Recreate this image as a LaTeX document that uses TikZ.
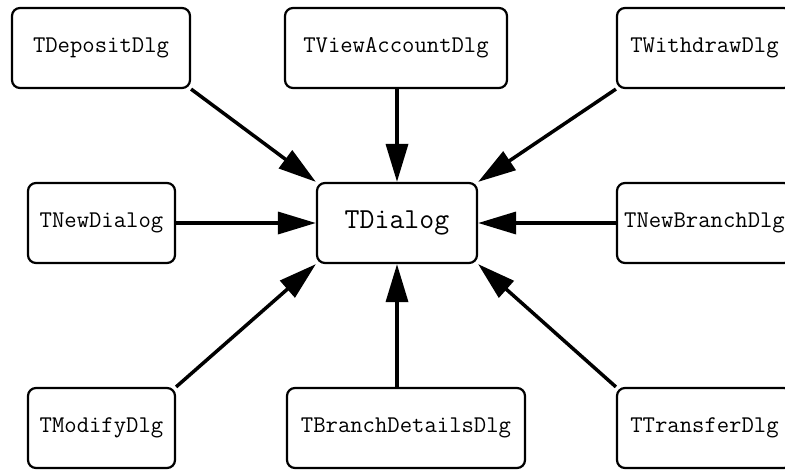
\documentclass[tikz,border=0pt]{standalone}
\usepackage{fontspec}
\usetikzlibrary{arrows.meta}
\begin{document}
\begin{tikzpicture}[x=1pt,y=-1pt,
  dlg/.style={draw, line width=2.2pt, rounded corners=8pt, minimum height=80pt,
    inner sep=0pt, font=\fontsize{24}{28}\selectfont\ttfamily},
  link/.style={line width=3.5pt, -{Triangle[length=38pt,width=22pt]}}]
\useasboundingbox (0,0) rectangle (785,469);
\clip (0,0) rectangle (785,469);
\fill[white] (0,0) rectangle (785,469);

% dialog classes
\node[dlg, minimum width=178pt] (dep)  at (101,48)    {TDepositDlg};
\node[dlg, minimum width=222pt] (view) at (396,48)    {TViewAccountDlg};
\node[dlg, minimum width=175pt] (wd)   at (704.5,48)  {TWithdrawDlg};
\node[dlg, minimum width=147pt] (new)  at (101.5,223) {TNewDialog};
\node[dlg, minimum width=160pt, font=\fontsize{29}{33}\selectfont\ttfamily]
                                (base) at (397,223)   {TDialog};
\node[dlg, minimum width=175pt] (nb)   at (704.5,223) {TNewBranchDlg};
\node[dlg, minimum width=147pt] (mod)  at (101.5,428) {TModifyDlg};
\node[dlg, minimum width=238pt] (bd)   at (406,428)   {TBranchDetailsDlg};
\node[dlg, minimum width=175pt] (tr)   at (704.5,428) {TTransferDlg};

% inheritance links to the base dialog
\draw[link] (dep.south east) -- (base.north west);
\draw[link] (view.south -| base.north) -- (base.north);
\draw[link] (wd.south west) -- (base.north east);
\draw[link] (new.east) -- (base.west);
\draw[link] (nb.west) -- (base.east);
\draw[link] (mod.north east) -- (base.south west);
\draw[link] (bd.north -| base.south) -- (base.south);
\draw[link] (tr.north west) -- (base.south east);
\end{tikzpicture}
\end{document}
